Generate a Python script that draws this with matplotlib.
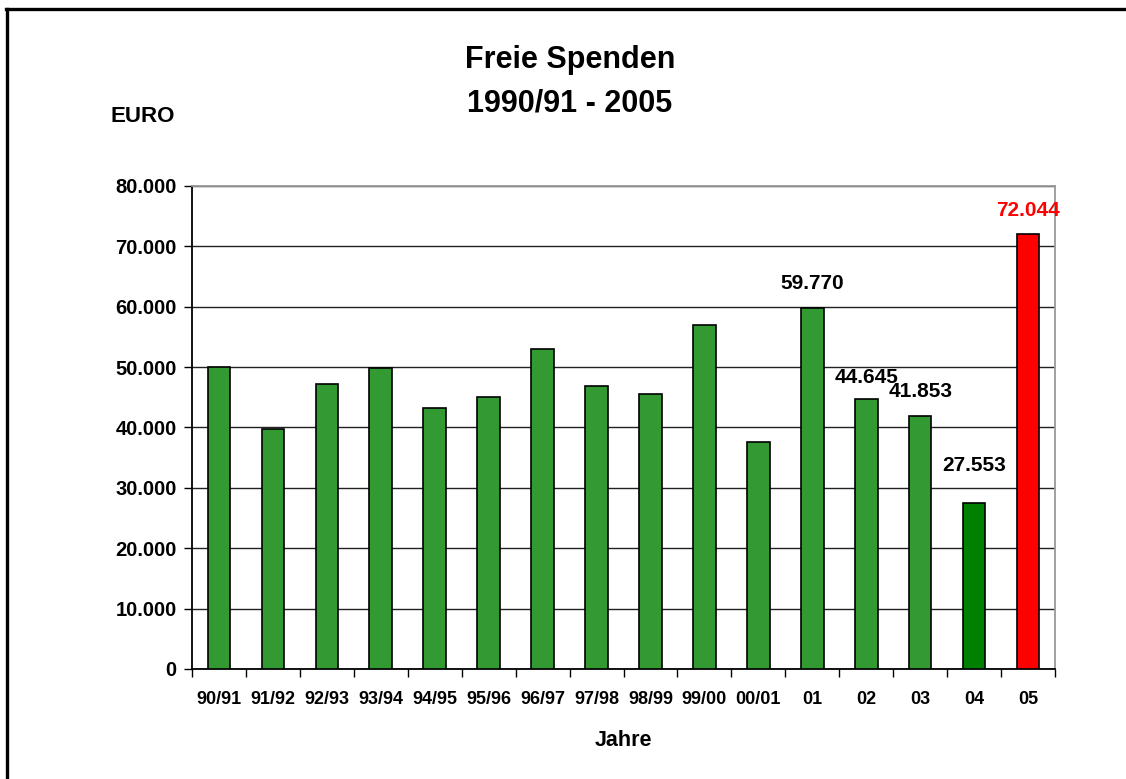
import matplotlib
matplotlib.use("Agg")
import matplotlib.pyplot as plt
from matplotlib.lines import Line2D
from matplotlib.ticker import FuncFormatter, MultipleLocator

plt.rcParams["font.family"] = ["Liberation Sans", "DejaVu Sans"]
plt.rcParams["font.weight"] = "bold"

categories = ["90/91", "91/92", "92/93", "93/94", "94/95", "95/96", "96/97", "97/98",
              "98/99", "99/00", "00/01", "01", "02", "03", "04", "05"]
values = [50100, 39700, 47200, 49900, 43200, 45000, 53000, 46900,
          45600, 57000, 37600, 59770, 44645, 41853, 27553, 72044]
bar_colors = ["#339933"] * 14 + ["#008000", "#FF0000"]
labeled = {11: "59.770", 12: "44.645", 13: "41.853", 14: "27.553", 15: "72.044"}
label_colors = {15: "#FF0000"}
label_offsets = {11: 18, 12: 16, 13: 18, 14: 27, 15: 17}

W, H = 1126, 779
fig = plt.figure(figsize=(W / 100, H / 100), dpi=100)
# frame: only left and top edges visible in the reference
fig.add_artist(Line2D([7 / W, 7 / W], [0, 1 - 9 / H], transform=fig.transFigure,
                      color="black", linewidth=2.4))
fig.add_artist(Line2D([6 / W, 1], [1 - 9 / H, 1 - 9 / H], transform=fig.transFigure,
                      color="black", linewidth=2.4))

ax = fig.add_axes([192 / W, 1 - 669 / H, (1055 - 192) / W, (669 - 186) / H])

x = list(range(len(categories)))
ax.bar(x, values, width=0.42, color=bar_colors, edgecolor="black", linewidth=1.2, zorder=3)

ax.set_xlim(-0.5, len(categories) - 0.5)
ax.set_ylim(0, 80000)
ax.yaxis.set_major_locator(MultipleLocator(10000))
ax.yaxis.set_major_formatter(FuncFormatter(lambda v, p: f"{int(v):,}".replace(",", ".")))
ax.grid(axis="y", color="#222222", linewidth=1.0, zorder=0)
ax.set_xticks(x)
ax.set_xticklabels(categories, fontsize=13, fontweight="bold")
ax.tick_params(axis="x", length=0, pad=16)
ax.set_xticks([i - 0.5 for i in range(len(categories) + 1)], minor=True)
ax.tick_params(axis="x", which="minor", length=6, width=1, color="black")
ax.tick_params(axis="y", labelsize=14.5, length=6, width=1, pad=5)
for lab in ax.get_yticklabels():
    lab.set_fontweight("bold")

for s in ["left", "bottom"]:
    ax.spines[s].set_color("black")
    ax.spines[s].set_linewidth(1.3)
for s in ["top", "right"]:
    ax.spines[s].set_color("#999999")
    ax.spines[s].set_linewidth(1.3)

for i, txt in labeled.items():
    ax.annotate(txt, (x[i], values[i]), xytext=(0, label_offsets[i]), textcoords="offset points",
                ha="center", va="center", fontsize=15, fontweight="bold",
                color=label_colors.get(i, "black"), zorder=5)

ax.set_xlabel("Jahre", fontsize=15.5, fontweight="bold", labelpad=16)
fig.text(570 / W, 1 - 60 / H, "Freie Spenden", ha="center", va="center",
         fontsize=22, fontweight="bold")
fig.text(570 / W, 1 - 103 / H, "1990/91 - 2005", ha="center", va="center",
         fontsize=22, fontweight="bold")
fig.text(143 / W, 1 - 116 / H, "EURO", ha="center", va="center",
         fontsize=16, fontweight="bold")

fig.savefig("out.png", dpi=100)
